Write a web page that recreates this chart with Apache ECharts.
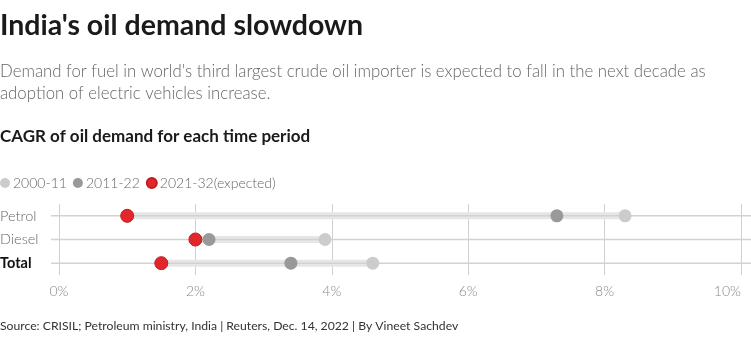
<!DOCTYPE html>
<html>
<head>
<meta charset="utf-8">
<style>
  html, body { margin: 0; padding: 0; background: #fff; }
  #chart { width: 751px; height: 341px; }
</style>
<script src="https://cdn.jsdelivr.net/npm/echarts@6/dist/echarts.min.js"></script>
</head>
<body>
<div id="chart"></div>
<script>
// Oil demand CAGR (%) by product and period
const categories = ['Petrol', 'Diesel', 'Total'];
const period2000 = [8.3, 3.9, 4.6];
const period2011 = [7.3, 2.2, 3.4];
const period2021 = [1.0, 2.0, 1.5];
const seriesNames = ['2000-11', '2011-22', '2021-32(expected)'];
const xTicks = [0, 2, 4, 6, 8, 10];

const FONT = 'Lato, "Noto Sans", sans-serif';

// range band spanning every period's value in a row
const ranges = categories.map((c, i) => {
  const vals = [period2000[i], period2011[i], period2021[i]];
  return [Math.min(...vals), Math.max(...vals), i];
});

const chart = echarts.init(document.getElementById('chart'));

chart.setOption({
  backgroundColor: '#fff',
  animation: false,
  title: [
    { text: "India's oil demand slowdown", left: 0, top: 11, padding: 0,
      textStyle: { fontFamily: FONT, fontSize: 28.5, fontWeight: 'bold', color: '#1a1a1a' } },
    { text: "Demand for fuel in world's third largest crude oil importer is expected to fall in the next decade as\nadoption of electric vehicles increase.",
      left: 0, top: 61, padding: 0,
      textStyle: { fontFamily: FONT, fontSize: 16.8, fontWeight: 300, color: '#666', lineHeight: 21.5 } },
    { text: 'CAGR of oil demand for each time period', left: 0, top: 128, padding: 0,
      textStyle: { fontFamily: FONT, fontSize: 17, fontWeight: 'bold', color: '#1a1a1a' } },
    { text: 'Source: CRISIL; Petroleum ministry, India | Reuters, Dec. 14, 2022 | By Vineet Sachdev',
      left: 0, top: 320, padding: 0,
      textStyle: { fontFamily: FONT, fontSize: 12.2, fontWeight: 'normal', color: '#333' } }
  ],
  legend: {
    left: 0, top: 176, padding: 0,
    icon: 'circle', itemWidth: 10, itemHeight: 10, itemGap: 6,
    data: seriesNames,
    textStyle: { fontFamily: FONT, fontSize: 14, fontWeight: 300, color: '#666', padding: [0, 0, 0, -2] }
  },
  grid: { left: 59, right: 10, top: 204, height: 71, containLabel: false, outerBoundsMode: 'none' },
  xAxis: {
    type: 'value', min: 0, max: 10, interval: 2,
    axisLine: { show: false }, axisTick: { show: false },
    splitLine: { show: true, lineStyle: { color: '#d0d0d0', width: 1 } },
    axisLabel: {
      margin: 9,
      alignMaxLabel: 'right',
      fontFamily: FONT, fontSize: 14, fontWeight: 300, color: '#888',
      formatter: v => xTicks.includes(v) ? v + '%' : ''
    }
  },
  yAxis: {
    type: 'category', data: categories, inverse: true,
    axisLine: { show: false }, axisTick: { show: false }, splitLine: { show: false },
    axisLabel: {
      align: 'left', margin: 59,
      formatter: v => v === 'Total' ? '{b|' + v + '}' : '{n|' + v + '}',
      rich: {
        n: { fontFamily: FONT, fontSize: 14.5, fontWeight: 300, color: '#666' },
        b: { fontFamily: FONT, fontSize: 14.5, fontWeight: 'bold', color: '#111' }
      }
    }
  },
  series: [
    {
      // row rules and range bands
      type: 'custom', silent: true, clip: false, z: 1,
      data: ranges,
      encode: { x: [0, 1], y: 2 },
      renderItem: (params, api) => {
        const lo = api.coord([api.value(0), api.value(2)]);
        const hi = api.coord([api.value(1), api.value(2)]);
        const zero = api.coord([0, api.value(2)]);
        const y = lo[1];
        return {
          type: 'group',
          children: [
            { type: 'rect', shape: { x: lo[0], y: y - 3.5, width: hi[0] - lo[0], height: 7 },
              style: { fill: '#e6e6e6' } },
            { type: 'line', shape: { x1: zero[0] - 8, y1: y, x2: api.getWidth(), y2: y },
              style: { stroke: '#d2d2d2', lineWidth: 1.5 } }
          ]
        };
      }
    },
    {
      name: seriesNames[0], type: 'scatter', symbolSize: 13, z: 3,
      itemStyle: { color: '#cccccc', opacity: 1 },
      data: period2000.map((v, i) => [v, categories[i]])
    },
    {
      name: seriesNames[1], type: 'scatter', symbolSize: 13, z: 4,
      itemStyle: { color: '#999999', opacity: 1 },
      data: period2011.map((v, i) => [v, categories[i]])
    },
    {
      name: seriesNames[2], type: 'scatter', symbolSize: 13, z: 5,
      itemStyle: { color: '#e2262b', borderColor: '#c41d1d', borderWidth: 1, opacity: 1 },
      data: period2021.map((v, i) => [v, categories[i]])
    }
  ]
});
</script>
</body>
</html>
